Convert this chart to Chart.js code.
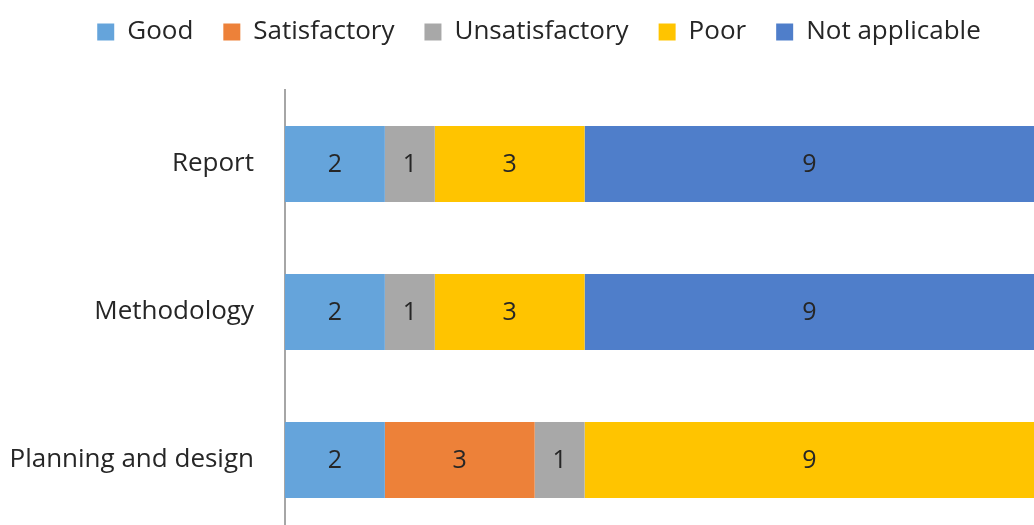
<!DOCTYPE html>
<html>
<head>
<meta charset="utf-8">
<script src="https://cdn.jsdelivr.net/npm/chart.js@4"></script>
<style>
  html, body { margin: 0; padding: 0; background: #fff; overflow: hidden; }
  canvas { display: block; }
</style>
</head>
<body>
<canvas id="myChart" width="1034" height="534"></canvas>
<script>
    const categories = ["Report", "Methodology", "Planning and design"];
    const good = [2, 2, 2];
    const satisfactory = [0, 0, 3];
    const unsatisfactory = [1, 1, 1];
    const poor = [3, 3, 9];
    const notApplicable = [9, 9, 0];

    const fontFamily = "'Open Sans', sans-serif";

    // draws the numbers in the middle of each segment
    const barLabels = {
      id: "barLabels",
      afterDatasetsDraw(chart) {
        const ctx = chart.ctx;
        ctx.save();
        ctx.font = "25px " + fontFamily;
        ctx.fillStyle = "#262626";
        ctx.textAlign = "center";
        ctx.textBaseline = "middle";
        chart.data.datasets.forEach((ds, i) => {
          const meta = chart.getDatasetMeta(i);
          meta.data.forEach((bar, j) => {
            const v = ds.data[j];
            if (!v) return;
            const p = bar.getCenterPoint();
            ctx.fillText(v, p.x, p.y + 1);
          });
        });
        ctx.restore();
      }
    };

    // fixed legend height so the plot starts at the same place,
    // and legend nudged a bit right like in the original
    const legendHeight = {
      id: "legendHeight",
      beforeInit(chart) {
        const fit = chart.legend.fit;
        chart.legend.fit = function () {
          fit.bind(chart.legend)();
          this.height = 101;
        };
      },
      afterLayout(chart) {
        chart.legend.left += 22;
        chart.legend.right += 22;
      }
    };

    const ctx = document.getElementById("myChart").getContext("2d");
    const chart = new Chart(ctx, {
      type: "bar",
      data: {
        labels: categories,
        datasets: [
          { label: "Good", data: good, backgroundColor: "#65A4DB" },
          { label: "Satisfactory", data: satisfactory, backgroundColor: "#ED8139" },
          { label: "Unsatisfactory", data: unsatisfactory, backgroundColor: "#A8A8A8" },
          { label: "Poor", data: poor, backgroundColor: "#FFC400" },
          { label: "Not applicable", data: notApplicable, backgroundColor: "#4F7ECA" }
        ]
      },
      options: {
        indexAxis: "y",
        responsive: false,
        animation: false,
        layout: { padding: { top: -11, left: 0, right: 0, bottom: 0 } },
        datasets: { bar: { categoryPercentage: 1, barPercentage: 0.515 } },
        plugins: {
          tooltip: { enabled: false },
          legend: {
            position: "top",
            labels: {
              color: "#262626",
              font: { family: fontFamily, size: 26 },
              boxWidth: 17,
              boxHeight: 17,
              padding: 30
            }
          }
        },
        scales: {
          x: {
            stacked: true,
            display: false,
            min: 0,
            max: 15
          },
          y: {
            stacked: true,
            grid: { display: false, drawTicks: false },
            border: { display: true, color: "#A6A6A6", width: 2 },
            ticks: {
              color: "#262626",
              font: { family: fontFamily, size: 26 },
              padding: 31
            },
            afterFit(scale) {
              scale.width = 285;
              scale.paddingTop = 0;
              scale.paddingBottom = 0;
            }
          }
        }
      },
      plugins: [barLabels, legendHeight]
    });
</script>
</body>
</html>
